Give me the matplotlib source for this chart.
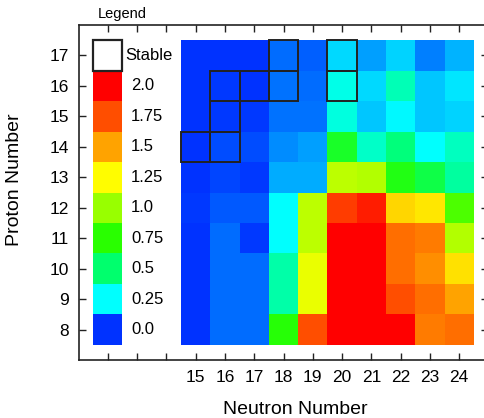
import matplotlib
matplotlib.use("Agg")
import matplotlib.pyplot as plt
import numpy as np
from matplotlib.colors import LinearSegmentedColormap
from matplotlib.patches import Rectangle

plt.rcParams['font.family'] = ['Liberation Sans', 'DejaVu Sans']

# neutron numbers (columns) and proton numbers (rows)
neutrons = np.arange(15, 25)
protons = np.arange(8, 18)

# cell values, one row per proton number from 8 to 17
values = np.array([
    [0.0, 0.073, 0.073, 0.74, 1.75, 2.0, 2.0, 2.0, 1.62, 1.66],    # Z=8
    [0.0, 0.073, 0.073, 0.40, 1.20, 2.0, 2.0, 1.75, 1.66, 1.50],   # Z=9
    [0.0, 0.073, 0.073, 0.40, 1.20, 2.0, 2.0, 1.66, 1.57, 1.33],   # Z=10
    [0.0, 0.073, 0.012, 0.25, 1.09, 2.0, 2.0, 1.66, 1.62, 1.07],   # Z=11
    [0.012, 0.049, 0.049, 0.25, 1.09, 1.81, 1.91, 1.36, 1.32, 0.83],  # Z=12
    [0.0, 0.024, 0.012, 0.152, 0.152, 1.09, 1.07, 0.71, 0.59, 0.42],  # Z=13
    [0.006, 0.037, 0.037, 0.11, 0.134, 0.66, 0.345, 0.48, 0.25, 0.36],  # Z=14
    [0.0, 0.012, 0.012, 0.085, 0.085, 0.31, 0.183, 0.245, 0.183, 0.20],  # Z=15
    [0.0, 0.012, 0.0, 0.085, 0.073, 0.29, 0.207, 0.38, 0.183, 0.22],  # Z=16
    [0.0, 0.0, 0.0, 0.073, 0.061, 0.207, 0.134, 0.20, 0.098, 0.16],   # Z=17
])

# stable isotopes, drawn with a black frame
stable_n = [18, 20, 16, 17, 18, 20, 16, 15, 16]
stable_z = [17, 17, 16, 16, 16, 16, 15, 14, 14]

# legend entries
legend_values = [0.0, 0.25, 0.5, 0.75, 1.0, 1.25, 1.5, 1.75, 2.0]
legend_labels = ["0.0", "0.25", "0.5", "0.75", "1.0", "1.25", "1.5", "1.75", "2.0"]
legend_colors = [(0, 50, 255), (0, 255, 255), (0, 255, 110), (40, 255, 0),
                 (150, 255, 0), (255, 255, 0), (255, 165, 0), (255, 80, 0),
                 (255, 0, 0)]

cmap = LinearSegmentedColormap.from_list(
    "legend", [(v / 2.0, tuple(c / 255 for c in col))
               for v, col in zip(legend_values, legend_colors)])

fig = plt.figure(figsize=(4.85, 4.18), dpi=100)
ax = fig.add_axes([78.5 / 485, 58 / 418, 410 / 485, 335 / 418])

ax.pcolormesh(np.arange(14.5, 25.0, 1.0), np.arange(7.5, 18.0, 1.0), values,
              cmap=cmap, vmin=0, vmax=2, shading='flat')

for n, z in zip(stable_n, stable_z):
    ax.add_patch(Rectangle((n - 0.5, z - 0.5), 1, 1, fill=False,
                           edgecolor='#222222', lw=1.4, zorder=3))

# legend column at N=12
ax.pcolormesh([11.5, 12.5], np.arange(7.5, 17.0, 1.0),
              np.array(legend_values).reshape(-1, 1),
              cmap=cmap, vmin=0, vmax=2, shading='flat')
ax.add_patch(Rectangle((11.5, 16.5), 1, 1, facecolor='white',
                       edgecolor='#222222', lw=1.6, zorder=3))
ax.text(12.6, 17, "Stable", ha='left', va='center', fontsize=12)
for z, lab in zip(protons[:-1], legend_labels):
    ax.text(12.8, z, lab, ha='left', va='center', fontsize=12)
ax.text(12.5, 18.12, "Legend", ha='center', va='bottom', fontsize=10.5)

ax.set_xlim(11, 25)
ax.set_ylim(7, 18)
ax.set_xticks(np.arange(12, 25))
ax.set_xticklabels(["", "", ""] + [str(n) for n in neutrons])
ax.set_yticks(protons)
ax.set_yticklabels([str(z) for z in protons])
ax.tick_params(direction='in', length=5, width=1, top=True, right=True,
               labelsize=12.5, pad=7, color='#222222')

for sp in ax.spines.values():
    sp.set_linewidth(1.2)
    sp.set_color('#222222')

ax.set_xlabel("Neutron Number", fontsize=14, va='center')
ax.set_ylabel("Proton Number", fontsize=14, va='center')
ax.xaxis.set_label_coords(0.528, -0.149)
ax.yaxis.set_label_coords(-0.155, 0.537)

fig.savefig("out.png", dpi=100)
